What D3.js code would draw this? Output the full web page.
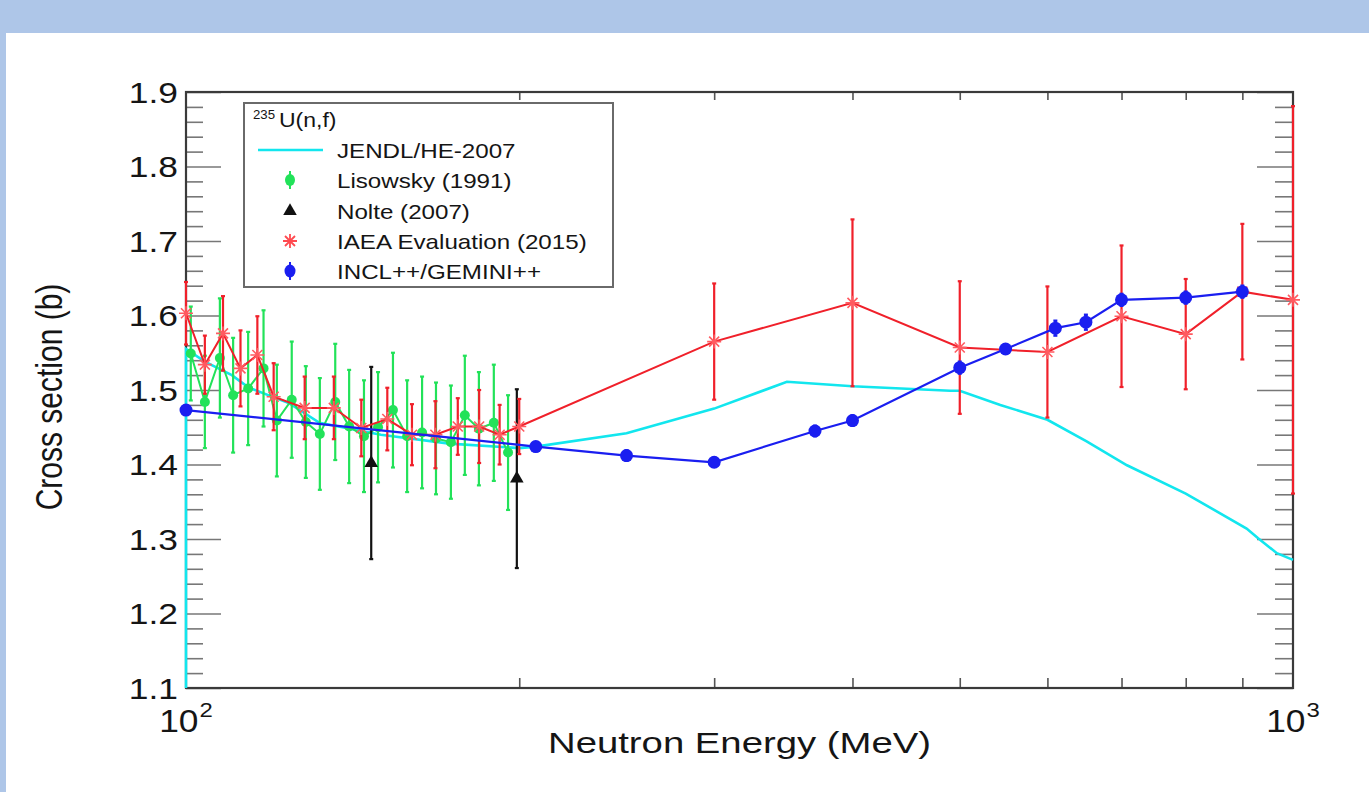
<!DOCTYPE html>
<html><head><meta charset="utf-8">
<script src="https://cdn.jsdelivr.net/npm/d3@7"></script>
<style>
body{margin:0;background:#fff;overflow:hidden}
text{font-family:"Liberation Sans",Arial,Helvetica,sans-serif;fill:#151515}
</style>
</head><body>
<svg id="c" width="1369" height="792"></svg>
<script>
// ---------------- data ----------------
const jendlE = [100,100,104,110,114,124,132,150,173,200,207,250,300,349,400,490,500,544,600,651,708,800,908,930,967,1000];
const jendlV = [1.10,1.555,1.538,1.52,1.503,1.482,1.456,1.440,1.428,1.422,1.424,1.442,1.475,1.511,1.505,1.499,1.499,1.48,1.46,1.431,1.399,1.361,1.314,1.301,1.281,1.272];

const lisE   = [101,104,107.3,110.3,113.8,117.5,120.8,124.6,128.3,132.1,136.4,140.4,144.8,149.1,153.8,158.4,163.4,168.2,173.5,178.6,183.9,189.7,195.4];
const lisV   = [1.549,1.484,1.543,1.493,1.502,1.529,1.459,1.487,1.457,1.441,1.484,1.451,1.438,1.450,1.473,1.438,1.443,1.435,1.430,1.466,1.448,1.456,1.416];
const lisErr = [0.063,0.062,0.080,0.077,0.076,0.078,0.075,0.078,0.075,0.075,0.078,0.076,0.075,0.074,0.077,0.075,0.075,0.075,0.076,0.080,0.076,0.078,0.077];

const nolteE   = [147,199];
const nolteV   = [1.402,1.381];
const nolteErr = [0.129,0.120];

const iaeaE   = [100,104,108,112,116,120,128,136,144,152,160,168,176,184,192,200,300,400,500,600,700,800,900,1000];
const iaeaV   = [1.603,1.534,1.576,1.529,1.547,1.491,1.476,1.476,1.449,1.461,1.440,1.440,1.451,1.451,1.440,1.451,1.565,1.617,1.557,1.551,1.599,1.575,1.632,1.621];
const iaeaErr = [0.042,0.039,0.050,0.051,0.052,0.045,0.042,0.042,0.038,0.042,0.041,0.045,0.038,0.049,0.040,0.037,0.078,0.112,0.089,0.088,0.095,0.074,0.091,0.260];

const inclE   = [100,207,250,300,370,400,500,550,610,650,700,800,900];
const inclV   = [1.473,1.424,1.412,1.403,1.445,1.459,1.530,1.555,1.583,1.591,1.621,1.624,1.632];
const inclErr = [0.006,0.006,0.007,0.006,0.007,0.007,0.008,0.006,0.010,0.010,0.008,0.008,0.008];

const yMajorTicks = [1.1,1.2,1.3,1.4,1.5,1.6,1.7,1.8,1.9];
const yMinorTicks = [1.12,1.14,1.16,1.18,1.22,1.24,1.26,1.28,1.32,1.34,1.36,1.38,1.42,1.44,1.46,1.48,1.52,1.54,1.56,1.58,1.62,1.64,1.66,1.68,1.72,1.74,1.76,1.78,1.82,1.84,1.86,1.88];
const xMinorTicks = [200,300,400,500,600,700,800,900];
const xLabelTicks = [100,1000];
const xLabelBase  = ["10","10"];
const xLabelExp   = ["2","3"];

const legendTitleSup = "235";
const legendTitle    = "U(n,f)";
const legendLabels   = ["JENDL/HE-2007","Lisowsky (1991)","Nolte (2007)","IAEA Evaluation (2015)","INCL++/GEMINI++"];
const xTitle = "Neutron Energy (MeV)";
const yTitle = "Cross section (b)";

// ---------------- styles ----------------
const C = {cyan:"#12e6ee", green:"#22e259", black:"#111111", red:"#f0202a", blue:"#1a1ef0"};

const svg = d3.select("#c");
// page frame
svg.append("rect").attr("x",0).attr("y",0).attr("width",1369).attr("height",33).attr("fill","#aec6e8");
svg.append("rect").attr("x",0).attr("y",0).attr("width",6).attr("height",792).attr("fill","#aec6e8");

const L=186,R=1293,T=92,B=688;
const x = d3.scaleLog().domain([100,1000]).range([L,R]);
const y = d3.scaleLinear().domain([1.1,1.9]).range([B,T]);

function stretch(sel,k){
  sel.each(function(){
    const w=this.getComputedTextLength();
    d3.select(this).attr("textLength",w*k).attr("lengthAdjust","spacingAndGlyphs");
  });
}
function styleTicks(g,col){
  g.select(".domain").remove();
  g.selectAll("line").attr("stroke",col).attr("stroke-width",1.6);
}

// ticks via d3 axes
svg.append("g").attr("transform",`translate(${L},0)`)
  .call(d3.axisRight(y).tickValues(yMajorTicks).tickSize(35).tickFormat(""))
  .call(g=>styleTicks(g,"#777"));
svg.append("g").attr("transform",`translate(${L},0)`)
  .call(d3.axisRight(y).tickValues(yMinorTicks).tickSize(17).tickFormat(""))
  .call(g=>styleTicks(g,"#777"));
svg.append("g").attr("transform",`translate(${R},0)`)
  .call(d3.axisLeft(y).tickValues(yMajorTicks).tickSize(36).tickFormat(""))
  .call(g=>styleTicks(g,"#777"));
svg.append("g").attr("transform",`translate(${R},0)`)
  .call(d3.axisLeft(y).tickValues(yMinorTicks).tickSize(18).tickFormat(""))
  .call(g=>styleTicks(g,"#777"));
svg.append("g").attr("transform",`translate(0,${B})`)
  .call(d3.axisTop(x).tickValues(xMinorTicks).tickSize(10).tickFormat(""))
  .call(g=>styleTicks(g,"#555"));
svg.append("g").attr("transform",`translate(0,${T})`)
  .call(d3.axisBottom(x).tickValues(xMinorTicks).tickSize(8).tickFormat(""))
  .call(g=>styleTicks(g,"#555"));

// frame
svg.append("rect").attr("x",L).attr("y",T).attr("width",R-L).attr("height",B-T)
  .attr("fill","none").attr("stroke","#3a3a3a").attr("stroke-width",2.2);

// y tick labels
const yl = svg.append("g").attr("transform",`translate(178,0)`)
  .call(d3.axisLeft(y).tickValues(yMajorTicks).tickSize(0).tickPadding(0).tickFormat(d3.format(".1f")));
yl.select(".domain").remove();
yl.attr("font-size",30).attr("font-family",null);
yl.selectAll("text").attr("fill","#151515").attr("dy","0.34em");
stretch(yl.selectAll("text"),1.18);

// x tick labels 10^n
xLabelTicks.forEach((v,i)=>{
  const g = svg.append("g");
  const b = g.append("text").attr("y",732).attr("font-size",31).text(xLabelBase[i]);
  stretch(b,1.14);
  const e = g.append("text").attr("y",717).attr("font-size",21).text(xLabelExp[i]);
  stretch(e,1.14);
  const wb = +b.attr("textLength"), we = +e.attr("textLength");
  const tot = wb+1+we, x0 = x(v)-tot/2;
  b.attr("x",x0); e.attr("x",x0+wb+1);
});

// axis titles
const xt = svg.append("text").attr("x",(L+R)/2).attr("y",753).attr("text-anchor","middle")
  .attr("font-size",29).text(xTitle);
stretch(xt,1.32);
svg.append("text").attr("transform","translate(62,397) scale(1.22,1) rotate(-90)")
  .attr("text-anchor","middle").attr("font-size",30).text(yTitle);

// ---------------- data layers ----------------
const plot = svg.append("g");
const line = d3.line().x(d=>x(d[0])).y(d=>y(d[1]));
const zip = (a,b,c)=>a.map((v,i)=>[v,b[i],c?c[i]:0]);

function errBars(data,col,w,cap){
  const g = plot.append("g").attr("stroke",col).attr("stroke-width",w);
  g.selectAll("line.v").data(data).join("line")
    .attr("x1",d=>x(d[0])).attr("x2",d=>x(d[0]))
    .attr("y1",d=>y(d[1]-d[2])).attr("y2",d=>y(d[1]+d[2]));
  g.selectAll("line.t").data(data).join("line")
    .attr("x1",d=>x(d[0])-cap).attr("x2",d=>x(d[0])+cap)
    .attr("y1",d=>y(d[1]+d[2])).attr("y2",d=>y(d[1]+d[2]));
  g.selectAll("line.b").data(data).join("line")
    .attr("x1",d=>x(d[0])-cap).attr("x2",d=>x(d[0])+cap)
    .attr("y1",d=>y(d[1]-d[2])).attr("y2",d=>y(d[1]-d[2]));
}

// JENDL
plot.append("path").datum(zip(jendlE,jendlV)).attr("d",line)
  .attr("fill","none").attr("stroke",C.cyan).attr("stroke-width",2.6);

// Lisowsky
const lis = zip(lisE,lisV,lisErr);
errBars(lis,C.green,2.2,2);
plot.append("path").datum(lis).attr("d",line).attr("fill","none").attr("stroke",C.green).attr("stroke-width",2);
plot.append("g").selectAll("circle").data(lis).join("circle")
  .attr("cx",d=>x(d[0])).attr("cy",d=>y(d[1])).attr("r",5).attr("fill",C.green);

// Nolte
const nol = zip(nolteE,nolteV,nolteErr);
errBars(nol,C.black,2.2,2);
plot.append("g").selectAll("path").data(nol).join("path")
  .attr("transform",d=>`translate(${x(d[0])},${y(d[1])})`)
  .attr("d",d3.symbol(d3.symbolTriangle,80)).attr("fill",C.black);

// IAEA
const ia = zip(iaeaE,iaeaV,iaeaErr);
errBars(ia,C.red,2.2,2);
plot.append("path").datum(ia).attr("d",line).attr("fill","none").attr("stroke",C.red).attr("stroke-width",2);
const starD = "M-7,0L7,0M0,-7L0,7M-5,-5L5,5M-5,5L5,-5";
plot.append("g").selectAll("path").data(ia).join("path")
  .attr("transform",d=>`translate(${x(d[0])},${y(d[1])})`)
  .attr("d",starD).attr("stroke","#ff5a60").attr("stroke-width",1.6).attr("fill","none");

// INCL++
const inc = zip(inclE,inclV,inclErr);
plot.append("path").datum(inc).attr("d",line).attr("fill","none").attr("stroke",C.blue).attr("stroke-width",2.2);
errBars(inc,C.blue,2.4,2);
plot.append("g").selectAll("circle").data(inc).join("circle")
  .attr("cx",d=>x(d[0])).attr("cy",d=>y(d[1])).attr("r",6.5).attr("fill",C.blue);

// ---------------- legend ----------------
const lg = svg.append("g");
lg.append("rect").attr("x",244).attr("y",103).attr("width",369).attr("height",184)
  .attr("fill","#fff").attr("stroke","#6a6a6a").attr("stroke-width",2);
const ts = lg.append("text").attr("x",253).attr("y",119).attr("font-size",12).text(legendTitleSup);
stretch(ts,1.1);
const tt = lg.append("text").attr("x",279).attr("y",127).attr("font-size",20).text(legendTitle);
stretch(tt,1.15);

const rowY = [150,180,211,241,271];
legendLabels.forEach((s,i)=>{
  const t = lg.append("text").attr("x",337).attr("y",rowY[i]+7.5).attr("font-size",21).text(s);
  stretch(t,1.15);
});
lg.append("line").attr("x1",258).attr("x2",323).attr("y1",rowY[0]).attr("y2",rowY[0])
  .attr("stroke",C.cyan).attr("stroke-width",2.6);
lg.append("line").attr("x1",290).attr("x2",290).attr("y1",rowY[1]-9).attr("y2",rowY[1]+9)
  .attr("stroke",C.green).attr("stroke-width",2);
lg.append("ellipse").attr("cx",290).attr("cy",rowY[1]).attr("rx",5).attr("ry",6).attr("fill",C.green);
lg.append("path").attr("transform",`translate(290,${rowY[2]})`)
  .attr("d",d3.symbol(d3.symbolTriangle,80)).attr("fill",C.black);
lg.append("path").attr("transform",`translate(290,${rowY[3]})`)
  .attr("d",starD).attr("stroke","#ff4a50").attr("stroke-width",1.8).attr("fill","none");
lg.append("line").attr("x1",290).attr("x2",290).attr("y1",rowY[4]-9).attr("y2",rowY[4]+9)
  .attr("stroke",C.blue).attr("stroke-width",2);
lg.append("ellipse").attr("cx",290).attr("cy",rowY[4]).attr("rx",5.5).attr("ry",6.5).attr("fill",C.blue);
</script>
</body></html>
